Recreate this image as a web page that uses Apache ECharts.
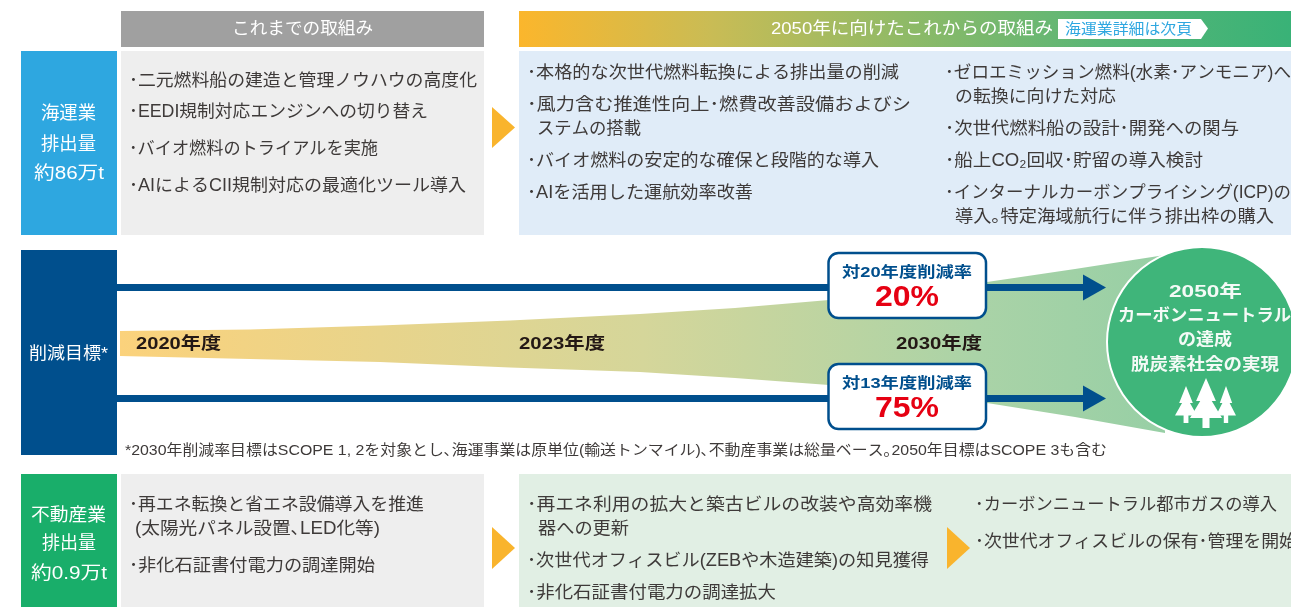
<!DOCTYPE html>
<html lang="ja"><head><meta charset="utf-8">
<style>html,body{margin:0;padding:0;background:#fff;overflow:hidden}#c{width:1291px;height:607px}</style>
<script src="https://cdn.jsdelivr.net/npm/echarts@6/dist/echarts.min.js"></script>
</head><body><div id="c"></div>
<script>
// ---- content ----
const headerPast = 'これまでの取組み';
const headerFuture = '2050年に向けたこれからの取組み';
const headerTag = '海運業詳細は次頁';
const shippingLabel = ['海運業', '排出量', '約86万t'];
const realEstateLabel = ['不動産業', '排出量', '約0.9万t'];
const targetLabel = '削減目標*';
const shippingPast = ['･二元燃料船の建造と管理ノウハウの高度化', '･EEDI規制対応エンジンへの切り替え', '･バイオ燃料のトライアルを実施', '･AIによるCII規制対応の最適化ツール導入'];
const shippingFutureA = ['･本格的な次世代燃料転換による排出量の削減', '･風力含む推進性向上･燃費改善設備およびシ', 'ステムの搭載', '･バイオ燃料の安定的な確保と段階的な導入', '･AIを活用した運航効率改善'];
const shippingFutureB = ['･ゼロエミッション燃料(水素･アンモニア)へ', 'の転換に向けた対応', '･次世代燃料船の設計･開発への関与', '･船上CO₂回収･貯留の導入検討', '･インターナルカーボンプライシング(ICP)の', '導入｡特定海域航行に伴う排出枠の購入'];
const realPast = ['･再エネ転換と省エネ設備導入を推進', '(太陽光パネル設置､LED化等)', '･非化石証書付電力の調達開始'];
const realFutureA = ['･再エネ利用の拡大と築古ビルの改装や高効率機', '器への更新', '･次世代オフィスビル(ZEBや木造建築)の知見獲得', '･非化石証書付電力の調達拡大'];
const realFutureB = ['･カーボンニュートラル都市ガスの導入', '･次世代オフィスビルの保有･管理を開始'];
const years = ['2020年度', '2023年度', '2030年度'];
const reductionTitles = ['対20年度削減率', '対13年度削減率'];
const reductionValues = [20, 75];
const goalText = ['2050年', 'カーボンニュートラル', 'の達成', '脱炭素社会の実現'];
const footnote = '*2030年削減率目標はSCOPE 1, 2を対象とし､海運事業は原単位(輸送トンマイル)､不動産事業は総量ベース｡2050年目標はSCOPE 3も含む';

// ---- drawing helpers ----
const FF = '"Liberation Sans","Noto Sans CJK JP",sans-serif';
const INK = '#3e3a39', NAVY = '#004f8d', ORANGE = '#f9b42d';
const mctx = document.createElement('canvas').getContext('2d');
const els = [];
function rect(x, y, w, h, fill, extra) {
  els.push({type: 'rect', shape: {x, y, width: w, height: h, r: (extra && extra.r) || 0},
    style: {fill, stroke: extra && extra.stroke, lineWidth: extra && extra.lw}});
}
function poly(points, fill) { els.push({type: 'polygon', shape: {points}, style: {fill}}); }
function text(str, x0, x1, y, size, fill, weight) {
  const w = weight || 'normal', font = `${w} ${size}px ${FF}`;
  mctx.font = font;
  const m = mctx.measureText(str).width;
  els.push({type: 'text', x: x0, y: y + 1.5, scaleX: (x1 - x0) / m, z: 10,
    style: {text: str, font, fill, textAlign: 'left', textVerticalAlign: 'middle'}});
}
function lines(strs, spans, ys, size, fill, weight) {
  strs.forEach((s, i) => text(s, spans[i][0], spans[i][1], ys[i], size, fill, weight));
}
function arrowTri(x0, x1, y0, y1) { poly([[x0, y0], [x1, (y0 + y1) / 2], [x0, y1]], ORANGE); }
function grad(stops) {
  return new echarts.graphic.LinearGradient(0, 0, 1, 0, stops.map(([offset, color]) => ({offset, color})));
}
function tree(cx, top, bottom, hw) {
  const h = bottom - top, tw = hw * 0.22;
  poly([[cx, top], [cx + hw * .62, top + h * .46], [cx + hw * .36, top + h * .46], [cx + hw, top + h * .8],
    [cx + tw, top + h * .8], [cx + tw, bottom], [cx - tw, bottom], [cx - tw, top + h * .8], [cx - hw, top + h * .8],
    [cx - hw * .36, top + h * .46], [cx - hw * .62, top + h * .46]], '#fff');
}

// ---- layout ----
rect(121, 11, 363, 36, '#a0a0a0');
els.push({type: 'rect', shape: {x: 519, y: 11, width: 772, height: 36},
  style: {fill: grad([[0, '#fbb62c'], [0.25, '#c9bc55'], [0.5, '#8fba67'], [0.75, '#5ab676'], [1, '#39b277']])}});
text(headerPast, 232, 373, 28, 17, '#fff');
text(headerFuture, 771, 1053, 28, 17, '#fff');
poly([[1058, 19], [1201, 19], [1208, 28.5], [1201, 39], [1058, 39]], '#fff');
text(headerTag, 1065, 1192, 28, 14.5, '#2ea7e0');

rect(21, 51, 96, 184, '#2ea7e0');
rect(121, 51, 363, 184, '#eeeeee');
rect(519, 51, 772, 184, '#e0ecf8');
arrowTri(492, 515, 107, 148);
lines(shippingLabel, [[41, 96], [41, 96], [34, 104]], [113, 144, 173], 18, '#fff');
lines(shippingPast, [[129, 477], [129, 428], [129, 378], [129, 466]], [80, 111, 148, 185], 17.5, INK);
lines(shippingFutureA, [[527, 899], [527, 911], [537, 641], [527, 879], [527, 753]], [72, 104, 128, 160, 192], 17.5, INK);
lines(shippingFutureB, [[945, 1291], [955, 1116], [945, 1239], [945, 1203], [945, 1291], [955, 1274]], [72, 96, 128, 160, 192, 216], 17.5, INK);

// target band
rect(21, 250, 96, 205, NAVY);
text(targetLabel, 29, 108, 353, 17, '#fff');
poly([[120, 331], [250, 329.5], [380, 325.5], [510, 320.5], [640, 314], [735, 308], [829, 300], [910, 292], [987, 282], [1075, 269], [1165, 255],
  [1165, 433], [1075, 417], [987, 403], [910, 393.5], [829, 385], [735, 378], [640, 372], [510, 367.5], [380, 362], [250, 359], [120, 356]], '#ccc');
els[els.length - 1].style.fill = grad([[0, '#fbd27c'], [0.5, '#d5d69a'], [0.82, '#aad3a7'], [1, '#97cfa5']]);
lines(years, [[136, 221], [519, 605], [896, 982]], [343, 343, 343], 17, '#231815', 'bold');
[287.5, 398.5].forEach(y => {
  rect(117, y - 3.5, 966, 7, NAVY);
  poly([[1083, y - 13], [1106, y], [1083, y + 13]], NAVY);
});
[252, 363].forEach((y, i) => {
  rect(828.5, y + 1, 157.5, 65, '#fff', {r: 10, stroke: NAVY, lw: 2.5});
  text(reductionTitles[i], 842, 972, y + 19, 15, NAVY, 'bold');
  text(reductionValues[i] + '%', 875, 939, y + 44, 29, '#e60012', 'bold');
});
els.push({type: 'circle', shape: {cx: 1202, cy: 342, r: 95}, style: {fill: '#3fb57a', stroke: '#fff', lineWidth: 2}, z: 5});
lines(goalText, [[1169, 1242], [1118, 1291], [1178, 1232], [1131, 1279]], [291, 315, 339, 364], 17, '#f4faf6', 'bold');
[[1186, 386, 423, 11], [1226, 386, 423, 10], [1206, 378, 428, 16]].forEach(a => { tree(...a); els[els.length - 1].z = 6; });
text(footnote, 125, 1107, 449, 14.5, INK);

// real estate
rect(21, 474, 96, 133, '#19ae6a');
rect(121, 474, 363, 133, '#eeeeee');
rect(519, 474, 772, 133, '#e1efe4');
arrowTri(492, 515, 527, 569);
arrowTri(947, 970, 527, 569);
lines(realEstateLabel, [[31, 106], [42, 96], [31, 107]], [515, 543, 573], 18, '#fff');
lines(realPast, [[129, 424], [135, 380], [129, 375]], [504, 528, 565], 17.5, INK);
lines(realFutureA, [[527, 932], [538, 629], [527, 929], [527, 776]], [504, 528, 560, 592], 17.5, INK);
lines(realFutureB, [[975, 1277], [975, 1297]], [504, 541], 17.5, INK);

const chart = echarts.init(document.getElementById('c'), null, {renderer: 'canvas'});
chart.setOption({animation: false, backgroundColor: '#fff', graphic: {elements: els}});
</script></body></html>
